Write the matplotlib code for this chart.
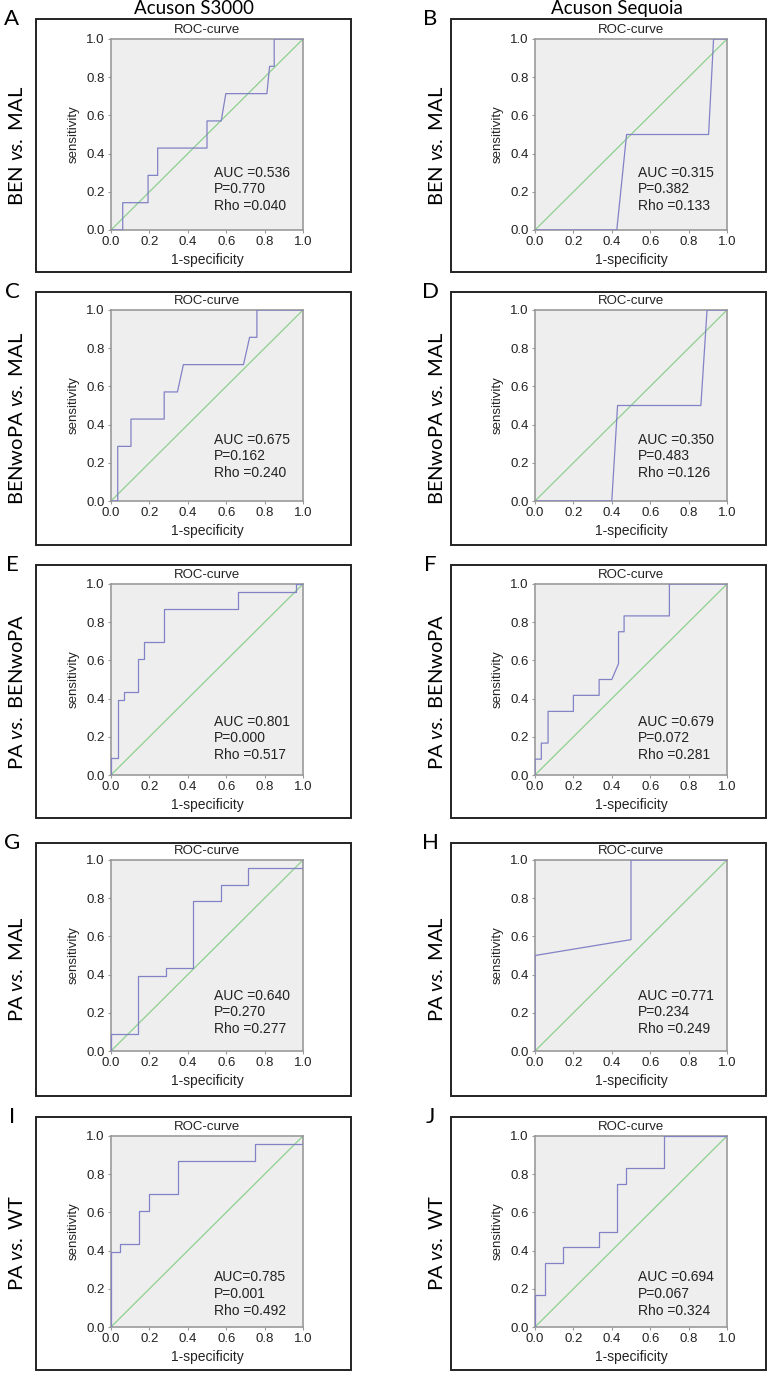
import matplotlib
matplotlib.use('Agg')
import matplotlib.pyplot as plt
from matplotlib.patches import Rectangle

plt.rcParams['font.family'] = ['Liberation Sans', 'DejaVu Sans']
plt.rcParams['mathtext.fontset'] = 'custom'
plt.rcParams['mathtext.it'] = 'Lato:italic'
plt.rcParams['mathtext.rm'] = 'Lato'

# ROC vertices (1-specificity, sensitivity)
fpr_a = [0, 0.061, 0.061, 0.193, 0.193, 0.243, 0.243, 0.50, 0.50, 0.574, 0.598, 0.812, 0.826, 0.85, 0.85, 1.0]
tpr_a = [0, 0, 0.143, 0.143, 0.286, 0.286, 0.429, 0.429, 0.571, 0.571, 0.714, 0.714, 0.857, 0.857, 1.0, 1.0]
fpr_b = [0, 0.426, 0.477, 0.904, 0.930, 1.0]
tpr_b = [0, 0, 0.5, 0.5, 1.0, 1.0]
fpr_c = [0, 0.035, 0.035, 0.104, 0.104, 0.277, 0.277, 0.346, 0.377, 0.690, 0.722, 0.760, 0.760, 1.0]
tpr_c = [0, 0, 0.286, 0.286, 0.429, 0.429, 0.571, 0.571, 0.714, 0.714, 0.857, 0.857, 1.0, 1.0]
fpr_d = [0, 0.400, 0.430, 0.864, 0.896, 1.0]
tpr_d = [0, 0, 0.5, 0.5, 1.0, 1.0]
fpr_e = [0, 0, 0.038, 0.038, 0.069, 0.069, 0.139, 0.139, 0.173, 0.173, 0.276, 0.276, 0.659, 0.659, 0.962, 0.962, 1.0]
tpr_e = [0, 0.087, 0.087, 0.391, 0.391, 0.435, 0.435, 0.609, 0.609, 0.696, 0.696, 0.870, 0.870, 0.957, 0.957, 1.0, 1.0]
fpr_f = [0, 0, 0.033, 0.033, 0.068, 0.068, 0.2, 0.2, 0.334, 0.334, 0.4, 0.435, 0.435, 0.464, 0.464, 0.7, 0.7, 1.0]
tpr_f = [0, 0.083, 0.083, 0.167, 0.167, 0.333, 0.333, 0.417, 0.417, 0.5, 0.5, 0.583, 0.75, 0.75, 0.833, 0.833, 1.0, 1.0]
fpr_g = [0, 0, 0.143, 0.143, 0.286, 0.286, 0.429, 0.429, 0.571, 0.571, 0.714, 0.714, 1.0, 1.0]
tpr_g = [0, 0.087, 0.087, 0.391, 0.391, 0.435, 0.435, 0.783, 0.783, 0.870, 0.870, 0.957, 0.957, 1.0]
fpr_h = [0, 0, 0.5, 0.5, 1.0]
tpr_h = [0, 0.5, 0.583, 1.0, 1.0]
fpr_i = [0, 0, 0.047, 0.047, 0.147, 0.147, 0.2, 0.2, 0.35, 0.35, 0.75, 0.75, 1.0, 1.0]
tpr_i = [0, 0.391, 0.391, 0.435, 0.435, 0.609, 0.609, 0.696, 0.696, 0.870, 0.870, 0.957, 0.957, 1.0]
fpr_j = [0, 0, 0.05, 0.05, 0.148, 0.148, 0.334, 0.334, 0.426, 0.426, 0.473, 0.473, 0.67, 0.67, 1.0]
tpr_j = [0, 0.167, 0.167, 0.333, 0.333, 0.417, 0.417, 0.5, 0.5, 0.75, 0.75, 0.833, 0.833, 1.0, 1.0]

letters = ['A', 'B', 'C', 'D', 'E', 'F', 'G', 'H', 'I', 'J']
auc_txt = ['AUC =0.536', 'AUC =0.315', 'AUC =0.675', 'AUC =0.350', 'AUC =0.801',
           'AUC =0.679', 'AUC =0.640', 'AUC =0.771', 'AUC=0.785', 'AUC =0.694']
p_txt = ['P=0.770', 'P=0.382', 'P=0.162', 'P=0.483', 'P=0.000',
         'P=0.072', 'P=0.270', 'P=0.234', 'P=0.001', 'P=0.067']
rho_txt = ['Rho =0.040', 'Rho =0.133', 'Rho =0.240', 'Rho =0.126', 'Rho =0.517',
           'Rho =0.281', 'Rho =0.277', 'Rho =0.249', 'Rho =0.492', 'Rho =0.324']
row_labels = [r'BEN $\mathit{vs.}$ MAL', r'BENwoPA $\mathit{vs.}$ MAL',
              r'PA $\mathit{vs.}$ BENwoPA', r'PA $\mathit{vs.}$ MAL', r'PA $\mathit{vs.}$ WT']
col_titles = ['Acuson S3000', 'Acuson Sequoia']

curves = [(fpr_a, tpr_a), (fpr_b, tpr_b), (fpr_c, tpr_c), (fpr_d, tpr_d), (fpr_e, tpr_e),
          (fpr_f, tpr_f), (fpr_g, tpr_g), (fpr_h, tpr_h), (fpr_i, tpr_i), (fpr_j, tpr_j)]

# layout in pixels
W, H = 768, 1373
box_x = [36, 451]
box_w = 315
box_top = [19, 292, 565, 843, 1117]
box_h = 253
ax_x = [111, 535]
ax_w, ax_h = 192, 191
ax_dy = [20, 18, 19, 17, 19]
text_y = [0.30, 0.32, 0.28, 0.29, 0.26]

blue = '#8282c6'
green = '#8ed08e'
spine = '#9a9a9a'
ink = '#222222'

fig = plt.figure(figsize=(W / 100, H / 100), dpi=100)

def fx(px):
    return px / W

def fy(py):
    return 1 - py / H

for c, title in enumerate(col_titles):
    fig.text(fx([194, 617][c]), fy(14), title, ha='center', va='baseline',
             fontsize=13.5, family=['Lato', 'DejaVu Sans'])

for k, (fpr, tpr) in enumerate(curves):
    r, c = divmod(k, 2)
    bx, by = box_x[c], box_top[r]
    fig.patches.append(Rectangle((fx(bx), fy(by + box_h)), box_w / W, box_h / H,
                                 transform=fig.transFigure, fill=False,
                                 edgecolor=ink, linewidth=1.4))
    fig.text(fx([12, 430][c]), fy(max(by, 13)), letters[k], ha='center', va='center',
             fontsize=16, family=['Lato', 'DejaVu Sans'])
    fig.text(fx([17, 437][c]), fy(by + box_h / 2), row_labels[r], ha='center', va='center',
             rotation=90, fontsize=14.5, family=['Lato', 'DejaVu Sans'])

    top = by + ax_dy[r]
    ax = fig.add_axes([fx(ax_x[c]), fy(top + ax_h), ax_w / W, ax_h / H])
    ax.set_facecolor('#eeeeee')
    ax.plot([0, 1], [0, 1], color=green, linewidth=0.9, zorder=2)
    ax.plot(fpr, tpr, color=blue, linewidth=0.9, zorder=3)
    ax.set_xlim(0, 1)
    ax.set_ylim(0, 1)
    ticks = [0, 0.2, 0.4, 0.6, 0.8, 1.0]
    ax.set_xticks(ticks)
    ax.set_yticks(ticks)
    ax.set_xticklabels([f'{t:.1f}' for t in ticks])
    ax.set_yticklabels([f'{t:.1f}' for t in ticks])
    ax.tick_params(length=2.5, width=0.8, color=spine, labelsize=9.5, pad=2,
                   labelcolor=ink)
    for s in ax.spines.values():
        s.set_color(spine)
        s.set_linewidth(1.2)
    ax.text(0.5, 1.048, 'ROC-curve', transform=ax.transAxes, ha='center', va='center',
            fontsize=9.5, color=ink)
    ax.text(-0.195, 0.5, 'sensitivity', transform=ax.transAxes, ha='center', va='center',
            rotation=90, fontsize=9.5, color=ink)
    ax.text(0.5, -0.158, '1-specificity', transform=ax.transAxes, ha='center', va='center',
            fontsize=10, color=ink)
    ty = text_y[r]
    for i, s in enumerate([auc_txt[k], p_txt[k], rho_txt[k]]):
        ax.text(0.535, ty - i * 0.087, s, transform=ax.transAxes, ha='left', va='center',
                fontsize=10, color=ink)

fig.savefig('out.png', dpi=100)
